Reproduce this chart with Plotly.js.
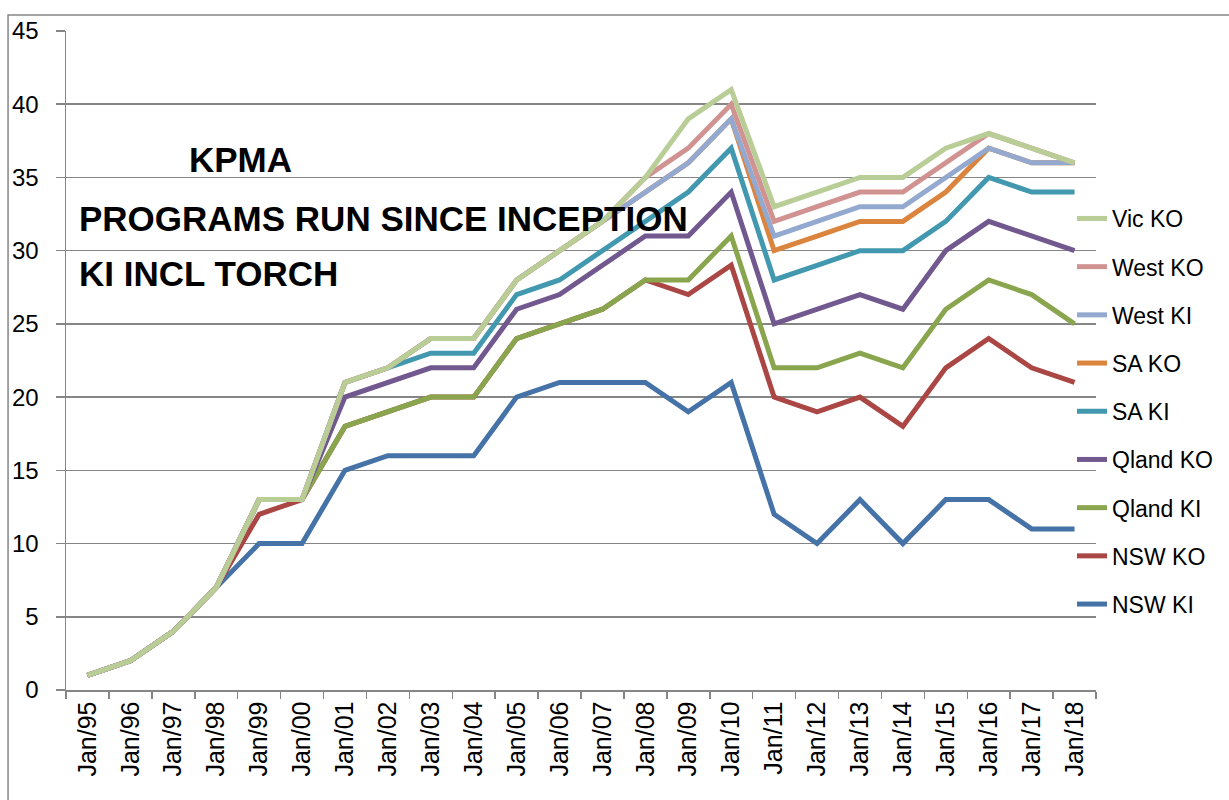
<!DOCTYPE html>
<html>
<head>
<meta charset="utf-8">
<script src="https://cdn.plot.ly/plotly-3.0.1.min.js"></script>
<style>html,body{margin:0;padding:0;background:#fff;}#chart{width:1229px;height:800px;}</style>
</head>
<body>
<div id="chart"></div>
<script>
const categories = ['Jan/95','Jan/96','Jan/97','Jan/98','Jan/99','Jan/00','Jan/01','Jan/02','Jan/03','Jan/04','Jan/05','Jan/06','Jan/07','Jan/08','Jan/09','Jan/10','Jan/11','Jan/12','Jan/13','Jan/14','Jan/15','Jan/16','Jan/17','Jan/18'];

const nswKI   = [1,2,4,7,10,10,15,16,16,16,20,21,21,21,19,21,12,10,13,10,13,13,11,11];
const nswKO   = [1,2,4,7,12,13,18,19,20,20,24,25,26,28,27,29,20,19,20,18,22,24,22,21];
const qlandKI = [1,2,4,7,13,13,18,19,20,20,24,25,26,28,28,31,22,22,23,22,26,28,27,25];
const qlandKO = [1,2,4,7,13,13,20,21,22,22,26,27,29,31,31,34,25,26,27,26,30,32,31,30];
const saKI    = [1,2,4,7,13,13,21,22,23,23,27,28,30,32,34,37,28,29,30,30,32,35,34,34];
const saKO    = [1,2,4,7,13,13,21,22,24,24,28,30,32,34,36,39,30,31,32,32,34,37,36,36];
const westKI  = [1,2,4,7,13,13,21,22,24,24,28,30,32,34,36,39,31,32,33,33,35,37,36,36];
const westKO  = [1,2,4,7,13,13,21,22,24,24,28,30,32,35,37,40,32,33,34,34,36,38,37,36];
const vicKO   = [1,2,4,7,13,13,21,22,24,24,28,30,32,35,39,41,33,34,35,35,37,38,37,36];

const seriesNames  = ['NSW KI','NSW KO','Qland KI','Qland KO','SA KI','SA KO','West KI','West KO','Vic KO'];
const seriesValues = [nswKI, nswKO, qlandKI, qlandKO, saKI, saKO, westKI, westKO, vicKO];
const seriesColors = ['#4572A7','#AA4643','#89A54E','#71588F','#4198AF','#DB843D','#93A9CF','#D19392','#B9CD96'];

const titleLines = ['KPMA','PROGRAMS RUN SINCE INCEPTION','KI INCL TORCH'];

const traces = seriesNames.map((n, i) => ({
  type: 'scatter', mode: 'lines', name: n,
  x: categories, y: seriesValues[i],
  legendgroup: 'g' + i,
  legendrank: 100 - i * 10,
  line: {color: seriesColors[i], width: 5}
}));

const L = 66, R = 132, T = 31, B = 110;
const PW = 1229 - L - R, PH = 800 - T - B;
const px = v => (v - L) / PW;
const py = v => (800 - B - v) / PH;

const font = 'Liberation Sans, Arial, sans-serif';
const layout = {
  width: 1229, height: 800, autosize: false,
  margin: {l: L, r: R, t: T, b: B},
  paper_bgcolor: '#ffffff', plot_bgcolor: '#ffffff',
  font: {family: font, color: '#000000', size: 22},
  showlegend: true,
  legend: {
    x: px(1072), xanchor: 'left', y: py(197), yanchor: 'top',
    traceorder: 'grouped', tracegroupgap: 15.3,
    font: {family: font, size: 23, color: '#000'},
    bgcolor: 'rgba(0,0,0,0)'
  },
  xaxis: {
    type: 'category', tickangle: -90, tickson: 'boundaries',
    ticks: 'outside', ticklen: 7, tickcolor: '#868686', tickwidth: 1.5,
    showline: true, linecolor: '#868686', linewidth: 1.5,
    showgrid: false, zeroline: false,
    tickfont: {family: font, size: 25, color: '#000'},
    range: [-0.5, 23.5], fixedrange: true
  },
  yaxis: {
    range: [0, 45], dtick: 5, tick0: 0,
    ticks: 'outside', ticklen: 9, tickcolor: '#868686', tickwidth: 1.5,
    showline: true, linecolor: '#868686', linewidth: 1.5,
    showgrid: true, gridcolor: '#868686', gridwidth: 1.5,
    zeroline: false, ticklabelstandoff: 12,
    tickfont: {family: font, size: 24, color: '#000'},
    fixedrange: true
  },
  shapes: [{
    type: 'rect', xref: 'paper', yref: 'paper',
    x0: px(8), x1: px(1260), y0: py(830), y1: py(15),
    line: {color: '#868686', width: 1.5}, fillcolor: 'rgba(0,0,0,0)', layer: 'below'
  }],
  annotations: [
    {text: titleLines[0], xref: 'paper', yref: 'paper', x: px(241), y: py(159), xanchor: 'center', yanchor: 'middle', showarrow: false, font: {family: font, size: 35, color: '#000', weight: 'bold'}},
    {text: titleLines[1], xref: 'paper', yref: 'paper', x: px(77), y: py(218), xanchor: 'left', yanchor: 'middle', showarrow: false, font: {family: font, size: 35, color: '#000', weight: 'bold'}},
    {text: titleLines[2], xref: 'paper', yref: 'paper', x: px(77), y: py(273), xanchor: 'left', yanchor: 'middle', showarrow: false, font: {family: font, size: 35, color: '#000', weight: 'bold'}}
  ]
};

Plotly.newPlot('chart', traces, layout, {displayModeBar: false, staticPlot: true});
</script>
</body>
</html>
